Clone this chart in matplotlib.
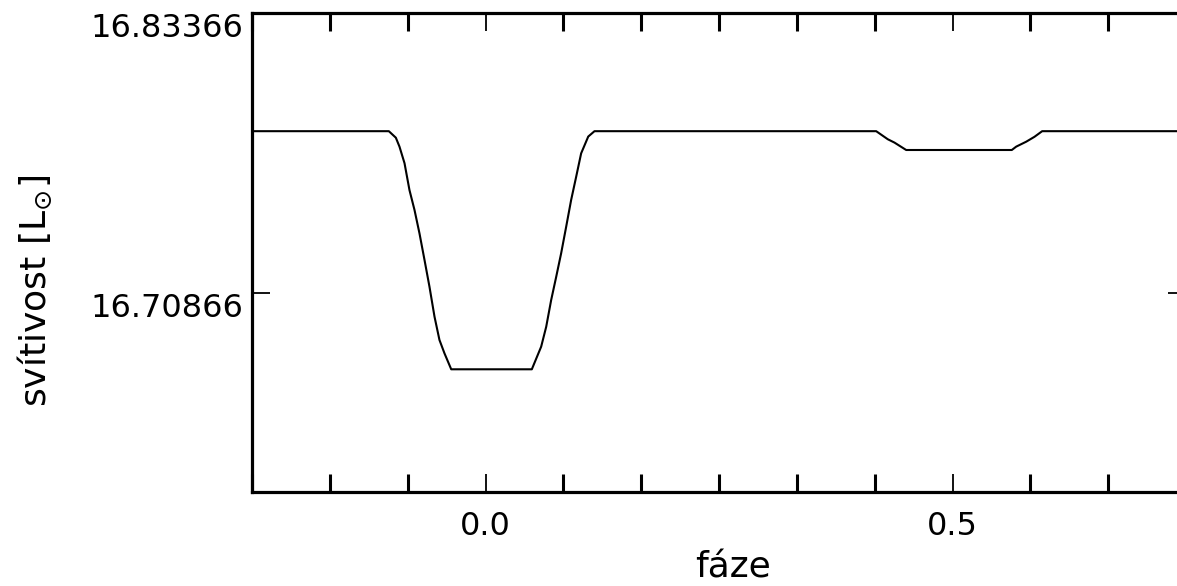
import matplotlib
matplotlib.use("Agg")
import matplotlib.pyplot as plt
from matplotlib.ticker import MultipleLocator, FixedLocator, FixedFormatter

# Light curve (phase, luminosity)
phase = [-0.25, -0.1035, -0.0960, -0.0921, -0.0867, -0.0814, -0.0760, -0.0707,
         -0.0653, -0.0600, -0.0546, -0.0493, -0.0439, -0.0367, 0.0496, 0.0596,
         0.0650, 0.0703, 0.0757, 0.0810, 0.0864, 0.0917, 0.0971, 0.1024, 0.1100,
         0.1167, 0.4183, 0.4307, 0.4379, 0.4504, 0.5635, 0.5682, 0.5789, 0.5878,
         0.5960, 0.75]
luminosity = [16.7809, 16.7809, 16.7780, 16.7740, 16.7666, 16.7546, 16.7457,
              16.7353, 16.7234, 16.7115, 16.6981, 16.6877, 16.6817, 16.6746,
              16.6746, 16.6847, 16.6936, 16.7055, 16.7159, 16.7264, 16.7383,
              16.7502, 16.7606, 16.7710, 16.7785, 16.7809, 16.7809, 16.7773,
              16.7758, 16.7725, 16.7725, 16.7740, 16.7762, 16.7784, 16.7809,
              16.7809]

x_major = [0.0, 0.5]
x_labels = ["0.0", "0.5"]
y_major = [16.70866, 16.83366]
y_labels = ["16.70866", "16.83366"]
x_lim = (-0.25, 0.75)
y_lim = (16.61982, 16.83366)

fig = plt.figure(figsize=(11.77, 5.86), dpi=100)
ax = fig.add_axes([252 / 1177, 1 - 492 / 586, (1186 - 252) / 1177, (492 - 13) / 586])

ax.plot(phase, luminosity, color="black", lw=1.5, solid_joinstyle="round")
ax.set_xlim(*x_lim)
ax.set_ylim(*y_lim)

for s in ax.spines.values():
    s.set_linewidth(2.3)

ax.xaxis.set_major_locator(FixedLocator(x_major))
ax.xaxis.set_major_formatter(FixedFormatter(x_labels))
ax.xaxis.set_minor_locator(MultipleLocator(1 / 12))
ax.yaxis.set_major_locator(FixedLocator(y_major))
ax.yaxis.set_major_formatter(FixedFormatter(y_labels))
ax.yaxis.set_minor_locator(FixedLocator([]))

ax.tick_params(axis="both", which="both", direction="in", top=True, right=True,
               length=13, labelsize=23, colors="black")
ax.tick_params(axis="both", which="major", width=1.3)
ax.tick_params(axis="both", which="minor", width=2.2)
ax.tick_params(axis="x", which="major", pad=14)
ax.tick_params(axis="y", which="major", pad=6)

for lbl in ax.get_yticklabels():
    lbl.set_va("top")

ax.set_xlabel("fáze", fontsize=26, va="bottom")
ax.xaxis.set_label_coords(0.515, -0.1935)
ax.set_ylabel("svítivost [L$_{\\odot}$]", fontsize=26)
ax.yaxis.set_label_coords(-0.212, 0.42)

fig.savefig("out.png", dpi=100)
